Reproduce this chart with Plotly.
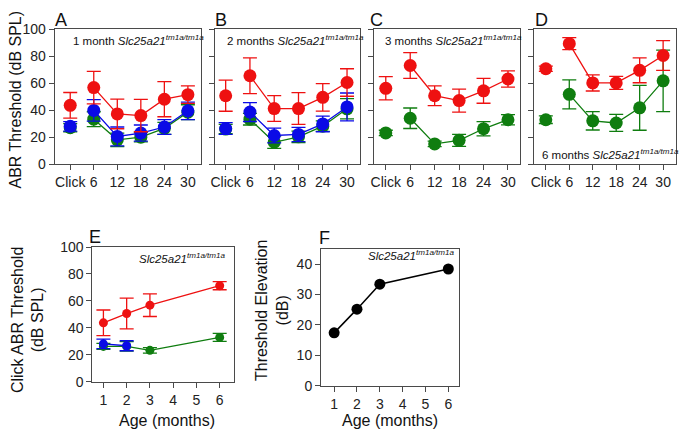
import plotly.graph_objects as go

# ---------------- data ----------------
freq_labels = ["Click", "6", "12", "18", "24", "30"]

# Panel A: 1 month
a_red = [43.6, 56.7, 37.2, 36.0, 48.1, 51.5]
a_red_err = [9.5, 12.0, 11.0, 12.0, 13.0, 6.5]
a_blue = [28.0, 39.8, 20.5, 23.0, 27.5, 39.5]
a_blue_err = [3.5, 8.0, 7.0, 6.0, 5.5, 6.5]
a_green = [27.0, 33.3, 18.0, 20.0, 26.5, 38.5]
a_green_err = [3.0, 5.5, 5.0, 3.5, 4.5, 5.5]

# Panel B: 2 months
b_red = [50.7, 65.5, 41.2, 41.2, 49.5, 60.5]
b_red_err = [11.5, 13.3, 9.5, 11.8, 10.2, 10.2]
b_blue = [26.4, 38.6, 21.2, 22.0, 29.8, 42.4]
b_blue_err = [4.3, 7.0, 5.5, 5.3, 5.8, 10.3]
b_green = [26.0, 33.3, 16.2, 20.2, 28.1, 41.0]
b_green_err = [3.5, 4.3, 4.5, 4.2, 3.9, 7.5]

# Panel C: 3 months
c_red = [56.2, 73.1, 50.7, 47.1, 54.3, 63.1]
c_red_err = [8.6, 9.5, 7.3, 8.5, 9.2, 6.0]
c_green = [23.1, 34.0, 15.0, 17.6, 26.2, 32.9]
c_green_err = [2.0, 7.6, 2.1, 4.5, 5.3, 3.8]

# Panel D: 6 months
d_red = [70.7, 89.3, 60.2, 60.2, 69.5, 80.5]
d_red_err = [2.0, 4.5, 6.0, 4.8, 9.2, 11.0]
d_green = [32.9, 51.7, 32.1, 30.5, 41.7, 61.7]
d_green_err = [2.8, 10.7, 6.8, 6.3, 16.6, 22.8]

# Panel E: click thresholds vs age
e_ages = [1, 2, 3, 6]
e_red = [43.8, 50.7, 56.9, 71.3]
e_red_err = [9.5, 11.4, 8.4, 3.0]
e_green = [26.3, 26.3, 23.4, 33.0]
e_green_err = [2.2, 3.5, 2.0, 3.0]
e_blue_ages = [1, 2]
e_blue = [28.2, 26.8]
e_blue_err = [3.5, 3.7]

# Panel F: threshold elevation
f_ages = [1, 2, 3, 6]
f_elev = [17.4, 25.2, 33.4, 38.4]

RED = "#ee1111"
BLUE = "#0a0ae6"
GREEN = "#0f7d0f"
AX = "#4a4a4a"
FONT = "Liberation Sans, Arial, sans-serif"

fig = go.Figure()

xpos = list(range(len(freq_labels)))


def add_series(ax, vals, errs, color, msize=13):
    xa = "x" if ax == 1 else f"x{ax}"
    ya = "y" if ax == 1 else f"y{ax}"
    # click point (isolated)
    fig.add_trace(go.Scatter(
        x=xpos[:1], y=vals[:1], mode="markers", xaxis=xa, yaxis=ya,
        marker=dict(color=color, size=msize),
        error_y=dict(type="data", array=errs[:1], color=color, thickness=1.3, width=7),
        showlegend=False))
    # frequency line
    fig.add_trace(go.Scatter(
        x=xpos[1:], y=vals[1:], mode="lines+markers", xaxis=xa, yaxis=ya,
        line=dict(color=color, width=1.3),
        marker=dict(color=color, size=msize),
        error_y=dict(type="data", array=errs[1:], color=color, thickness=1.3, width=7),
        showlegend=False))


add_series(1, a_green, a_green_err, GREEN)
add_series(1, a_blue, a_blue_err, BLUE)
add_series(1, a_red, a_red_err, RED)
add_series(2, b_green, b_green_err, GREEN)
add_series(2, b_blue, b_blue_err, BLUE)
add_series(2, b_red, b_red_err, RED)
add_series(3, c_green, c_green_err, GREEN)
add_series(3, c_red, c_red_err, RED)
add_series(4, d_green, d_green_err, GREEN)
add_series(4, d_red, d_red_err, RED)

# Panel E
fig.add_trace(go.Scatter(
    x=e_ages, y=e_green, mode="lines+markers", xaxis="x5", yaxis="y5",
    line=dict(color=GREEN, width=1.3), marker=dict(color=GREEN, size=9),
    error_y=dict(type="data", array=e_green_err, color=GREEN, thickness=1.3, width=7),
    showlegend=False))
fig.add_trace(go.Scatter(
    x=e_blue_ages, y=e_blue, mode="lines+markers", xaxis="x5", yaxis="y5",
    line=dict(color=BLUE, width=1.3), marker=dict(color=BLUE, size=9),
    error_y=dict(type="data", array=e_blue_err, color=BLUE, thickness=1.3, width=7),
    showlegend=False))
fig.add_trace(go.Scatter(
    x=e_ages, y=e_red, mode="lines+markers", xaxis="x5", yaxis="y5",
    line=dict(color=RED, width=1.3), marker=dict(color=RED, size=9),
    error_y=dict(type="data", array=e_red_err, color=RED, thickness=1.3, width=7),
    showlegend=False))

# Panel F
fig.add_trace(go.Scatter(
    x=f_ages, y=f_elev, mode="lines+markers", xaxis="x6", yaxis="y6",
    line=dict(color="black", width=1.5), marker=dict(color="black", size=11),
    showlegend=False))

W, H = 680, 441


def px_x(p):
    return p / W


def px_y(p):
    return 1 - p / H


axis_common = dict(showline=True, linecolor=AX, linewidth=1.3, mirror=True,
                   ticks="outside", ticklen=5, tickcolor=AX, tickwidth=1.2,
                   showgrid=False, zeroline=False,
                   tickfont=dict(family=FONT, size=14, color="#222"))

top_dom_y = [px_y(162), px_y(22)]
top_panels = [
    (1, [51, 198], [-0.66, 5.55]),
    (2, [212, 358], [-0.45, 5.53]),
    (3, [372, 519], [-0.49, 5.49]),
    (4, [533, 676], [-0.51, 5.55]),
]
layout = {}
for i, (ax, dom, rng) in enumerate(top_panels):
    key = "" if ax == 1 else str(ax)
    layout[f"xaxis{key}"] = dict(axis_common, domain=[px_x(dom[0]), px_x(dom[1])], range=rng,
                                 tickvals=xpos, ticktext=freq_labels,
                                 anchor=f"y{key}")
    layout[f"yaxis{key}"] = dict(axis_common, domain=top_dom_y, range=[0, 100],
                                 tickvals=[0, 20, 40, 60, 80, 100],
                                 showticklabels=(ax == 1), anchor=f"x{key}")

layout["xaxis5"] = dict(axis_common, domain=[px_x(89), px_x(231)], range=[0.53, 6.6],
                        tickvals=[1, 2, 3, 4, 5, 6], anchor="y5")
layout["yaxis5"] = dict(axis_common, domain=[px_y(388), px_y(248)], range=[0, 100],
                        tickvals=[0, 20, 40, 60, 80, 100], anchor="x5")
layout["xaxis6"] = dict(axis_common, domain=[px_x(319), px_x(458)], range=[0.43, 6.48],
                        tickvals=[1, 2, 3, 4, 5, 6], anchor="y6")
layout["yaxis6"] = dict(axis_common, domain=[px_y(392), px_y(250)], range=[0, 45],
                        tickvals=[0, 10, 20, 30, 40], anchor="x6")

fig.update_layout(**layout)

geno = "<i>Slc25a21<sup>tm1a/tm1a</sup></i>"
ann = []


def add_text(text, x, y, size, xanchor="center", angle=0):
    ann.append(dict(text=text, x=px_x(x), y=px_y(y), xref="paper", yref="paper",
                    xanchor=xanchor, yanchor="middle", showarrow=False, textangle=angle,
                    font=dict(family=FONT, size=size, color="#111")))


# panel letters
for letter, x, y in [("A", 57, 12), ("B", 218, 12), ("C", 375, 12), ("D", 541, 12),
                     ("E", 92, 238), ("F", 322, 239)]:
    add_text(letter, x, y, 18)

# genotype labels
add_text("1 month " + geno, 67, 33, 11.5, "left")
add_text("2 months " + geno, 222, 33, 11.5, "left")
add_text("3 months " + geno, 381, 33, 11.5, "left")
add_text("6 months " + geno, 539, 152, 11.5, "left")
add_text(geno, 225, 259, 11.5, "right")
add_text(geno, 456, 256, 11.5, "right")

# axis titles
add_text("ABR Threshold (dB SPL)", 12, 95, 16, angle=-90)
add_text("Click ABR Threshold<br>(dB SPL)", 24, 324, 16, angle=-90)
add_text("Threshold Elevation<br>(dB)", 269, 314, 16, angle=-90)
add_text("Age (months)", 164, 428, 16)
add_text("Age (months)", 388, 428, 16)

fig.update_layout(annotations=ann, width=W, height=H,
                  margin=dict(l=0, r=0, t=0, b=0),
                  paper_bgcolor="white", plot_bgcolor="white",
                  font=dict(family=FONT))

fig.write_html("out.html", config={"displayModeBar": False},
               post_script="document.body.style.margin='0';document.body.style.overflow='hidden';")
